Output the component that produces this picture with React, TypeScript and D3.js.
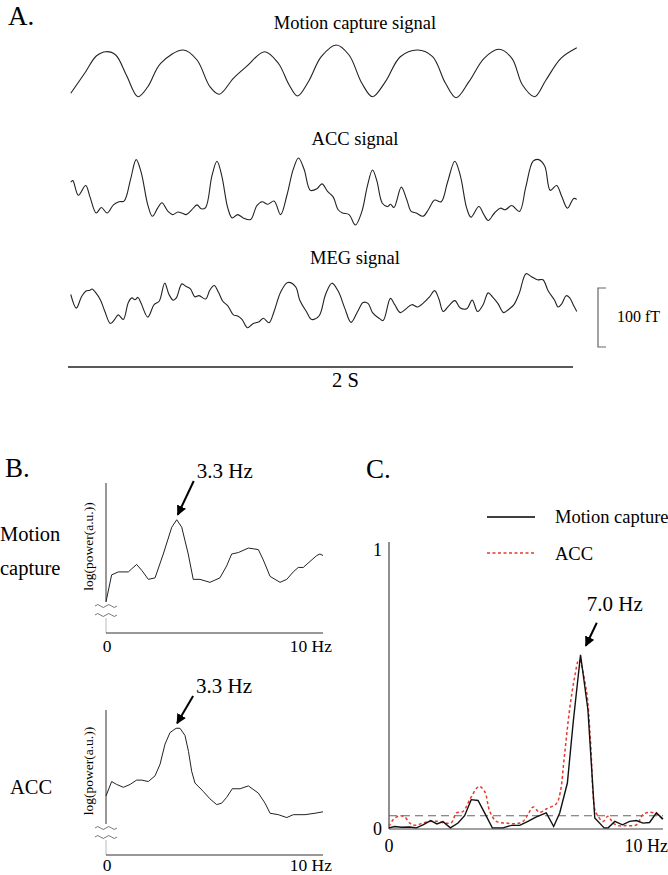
import React from 'react';
import * as d3 from 'd3';

// ---------- Panel A: time series (time in s, normalised amplitude) ----------
const tMotion = [0.011,0.070,0.112,0.151,0.189,0.231,0.277,0.316,0.367,0.457,0.511,0.562,0.599,0.655,0.706,0.779,0.833,0.876,0.909,0.952,1.003,1.062,1.113,1.164,1.206,1.257,1.316,1.385,1.444,1.495,1.537,1.588,1.648,1.707,1.758,1.800,1.848,1.893,1.952,2.015];
const vMotion = [0.089,0.496,0.792,0.874,0.811,0.434,0.025,0.213,0.655,0.906,0.717,0.213,0.070,0.372,0.591,0.874,0.655,0.245,0.038,0.308,0.779,1.0,0.811,0.277,0.025,0.308,0.779,0.906,0.779,0.277,0.006,0.308,0.749,0.919,0.749,0.245,0.025,0.340,0.749,0.949];

const tAcc = [0.011,0.019,0.041,0.070,0.087,0.112,0.132,0.155,0.180,0.202,0.222,0.248,0.270,0.290,0.316,0.334,0.355,0.372,0.396,0.414,0.435,0.451,0.468,0.490,0.511,0.528,0.545,0.570,0.590,0.609,0.633,0.650,0.672,0.694,0.723,0.748,0.769,0.791,0.816,0.842,0.867,0.892,0.913,0.935,0.960,0.986,1.006,1.028,1.050,1.070,1.087,1.113,1.138,1.164,1.186,1.206,1.223,1.245,1.266,1.277,1.291,1.320,1.342,1.359,1.379,1.406,1.427,1.452,1.478,1.503,1.532,1.554,1.579,1.596,1.627,1.647,1.664,1.689,1.712,1.732,1.757,1.788,1.813,1.842,1.864,1.888,1.910,1.935,1.956,1.978,2.003,2.015];
const vAcc = [0.638,0.662,0.444,0.589,0.420,0.179,0.261,0.179,0.300,0.348,0.357,0.686,0.976,0.783,0.300,0.130,0.251,0.333,0.203,0.155,0.193,0.179,0.155,0.227,0.300,0.242,0.261,0.734,0.952,0.734,0.251,0.106,0.155,0.106,0.082,0.290,0.348,0.309,0.357,0.155,0.444,0.831,1.0,0.831,0.517,0.541,0.614,0.502,0.420,0.227,0.179,0.155,0,0.203,0.589,0.821,0.662,0.324,0.275,0.309,0.261,0.565,0.372,0.203,0.179,0.130,0.227,0.372,0.348,0.638,0.952,0.734,0.251,0.116,0.275,0.155,0.068,0.179,0.251,0.227,0.290,0.203,0.565,0.952,0.976,0.879,0.517,0.589,0.420,0.251,0.396,0.382];

const tMeg = [0.011,0.033,0.053,0.070,0.087,0.095,0.112,0.129,0.146,0.168,0.185,0.199,0.219,0.239,0.253,0.265,0.277,0.290,0.316,0.341,0.361,0.383,0.400,0.417,0.429,0.451,0.468,0.485,0.502,0.519,0.545,0.562,0.579,0.596,0.613,0.633,0.655,0.672,0.689,0.711,0.731,0.757,0.774,0.796,0.816,0.842,0.870,0.901,0.918,0.944,0.965,0.994,1.020,1.045,1.070,1.096,1.121,1.147,1.169,1.189,1.206,1.232,1.248,1.277,1.294,1.316,1.342,1.362,1.384,1.410,1.432,1.452,1.469,1.486,1.508,1.532,1.554,1.579,1.601,1.622,1.644,1.664,1.681,1.703,1.725,1.746,1.766,1.787,1.814,1.834,1.859,1.881,1.902,1.927,1.941,1.956,1.973,1.987,2.003,2.015];
const vMeg = [0.609,0.362,0.564,0.667,0.687,0.708,0.630,0.506,0.300,0.082,0.156,0.239,0.156,0.465,0.547,0.514,0.556,0.444,0.198,0.424,0.486,0.815,0.609,0.506,0.547,0.802,0.753,0.712,0.568,0.588,0.527,0.691,0.774,0.650,0.486,0.403,0.239,0.218,0.156,0.004,0.074,0.115,0.177,0.095,0.300,0.650,0.827,0.753,0.506,0.300,0.156,0.218,0.609,0.815,0.671,0.362,0.103,0.300,0.465,0.444,0.280,0.177,0.136,0.539,0.424,0.280,0.362,0.424,0.383,0.465,0.568,0.679,0.527,0.300,0.403,0.498,0.362,0.350,0.506,0.300,0.424,0.638,0.568,0.444,0.280,0.342,0.424,0.630,0.988,0.938,0.877,0.877,0.671,0.506,0.383,0.444,0.588,0.547,0.403,0.300];

const signalTitles = ['Motion capture signal', 'ACC signal', 'MEG signal'];
const timeSpanLabel = '2 S';
const scaleBarLabel = '100 fT';

// ---------- Panel B: log power spectra ----------
const fBMotion = [0,0.26,0.57,0.88,1.03,1.18,1.41,1.65,1.95,2.26,2.64,3.03,3.26,3.49,3.79,4.02,4.33,4.56,4.79,5.25,5.56,5.79,6.10,6.56,7.02,7.25,7.56,8.02,8.33,8.63,8.86,9.09,9.40,9.71,9.86,10];
const pBMotion = [0.21,0.39,0.41,0.41,0.41,0.43,0.46,0.42,0.36,0.37,0.53,0.71,0.76,0.71,0.53,0.36,0.36,0.35,0.34,0.37,0.45,0.53,0.54,0.57,0.56,0.49,0.38,0.34,0.36,0.41,0.44,0.44,0.48,0.52,0.53,0.52];
const fBAcc = [0,0.26,0.49,0.80,1.11,1.41,1.65,1.95,2.26,2.49,2.72,2.95,3.23,3.41,3.64,3.80,3.95,4.10,4.49,4.79,5.10,5.33,5.56,5.82,6.18,6.56,7.02,7.33,7.56,7.94,8.33,8.63,9.17,9.63,10];
const pBAcc = [0.41,0.51,0.49,0.47,0.49,0.52,0.52,0.51,0.55,0.63,0.77,0.85,0.88,0.88,0.83,0.72,0.58,0.50,0.44,0.39,0.35,0.36,0.40,0.46,0.46,0.48,0.43,0.36,0.29,0.28,0.26,0.28,0.28,0.29,0.30];
const peakB = 3.3;
const rowLabelsB = [['Motion', 'capture'], ['ACC']];

// ---------- Panel C: coherence with MEG ----------
const fCMotion = [0,0.21,0.45,0.76,1.0,1.24,1.52,1.75,1.97,2.24,2.52,2.76,3.0,3.25,3.49,3.77,4.16,4.47,4.77,5.07,5.38,5.74,6.01,6.23,6.51,6.72,6.99,7.26,7.51,7.85,8.0,8.24,8.52,8.78,9.03,9.27,9.51,9.76,10];
const cCMotion = [0.004,0.009,0.006,0.007,0.004,0.015,0.03,0.018,0.026,0.004,0.021,0.047,0.104,0.101,0.057,0.004,0.004,0.013,0.013,0.027,0.043,0.057,0.009,0.057,0.163,0.376,0.618,0.423,0.039,0.004,0.004,0.027,0.015,0.027,0.03,0.021,0.023,0.057,0.035];
const fCAcc = [0,0.15,0.39,0.57,0.76,0.94,1.18,1.49,1.79,2.03,2.28,2.46,2.70,2.98,3.28,3.49,3.68,3.92,4.28,4.65,4.89,5.07,5.26,5.50,5.74,6.11,6.25,6.40,6.59,6.78,6.93,7.20,7.35,7.51,7.60,7.81,7.99,8.18,8.36,8.66,9.03,9.27,9.51,9.76,10];
const cCAcc = [0.009,0.033,0.047,0.043,0.021,0.013,0.019,0.027,0.027,0.021,0.023,0.057,0.062,0.11,0.151,0.133,0.062,0.027,0.021,0.019,0.027,0.051,0.078,0.059,0.071,0.09,0.13,0.257,0.423,0.541,0.60,0.494,0.317,0.07,0.05,0.027,0.045,0.021,0.012,0.012,0.015,0.051,0.059,0.054,0.033];
const thresholdC = 0.047;
const peakC = 7.0;
const legendC = ['Motion capture', 'ACC'];

const FONT = "'Liberation Serif', 'Times New Roman', Times, serif";
const RED = '#e53a2f';

function zip(xs: number[], ys: number[]): [number, number][] {
  const n = Math.min(xs.length, ys.length);
  const out: [number, number][] = [];
  for (let i = 0; i < n; i++) out.push([xs[i], ys[i]]);
  return out;
}

function breakPath(cx: number, cy: number) {
  const w = 5.5;
  let d = `M${cx - 2 * w},${cy}`;
  for (let i = 0; i < 4; i++) d += ` q${w / 2},${i % 2 ? 3 : -3} ${w},0`;
  return d;
}

export default function App() {
  // Panel A scales
  const xA = d3.scaleLinear().domain([0, 2]).range([68, 573]);
  const bands = [
    { t: tMotion, v: vMotion, top: 45, bottom: 98, titleY: 29 },
    { t: tAcc, v: vAcc, top: 158, bottom: 225, titleY: 145 },
    { t: tMeg, v: vMeg, top: 273, bottom: 328, titleY: 264 },
  ];

  // Panel B scales
  const xB = d3.scaleLinear().domain([0, 10]).range([106, 323]);
  const bPlots = [
    { f: fBMotion, p: pBMotion, y: d3.scaleLinear().domain([0, 1]).range([633, 484]), axisTop: 483, axisY: 633, labels: rowLabelsB[0], labelY: [541, 575], peakLabelY: 478 },
    { f: fBAcc, p: pBAcc, y: d3.scaleLinear().domain([0, 1]).range([855, 711]), axisTop: 710, axisY: 855, labels: rowLabelsB[1], labelY: [794], peakLabelY: 693 },
  ];

  // Panel C scales
  const xC = d3.scaleLinear().domain([0, 10]).range([389, 663]);
  const yC = d3.scaleLinear().domain([0, 1]).range([829, 547]);

  const lineC = d3.line<[number, number]>().x(d => xC(d[0])).y(d => yC(d[1]));
  const lineCSmooth = d3.line<[number, number]>().x(d => xC(d[0])).y(d => yC(d[1])).curve(d3.curveCatmullRom.alpha(0.5));

  return (
    <svg width={668} height={875} style={{ position: 'absolute', left: 0, top: 0, display: 'block', background: '#fff', fontFamily: FONT }}>
      <defs>
        <marker id="ah" viewBox="0 0 10 10" refX="9" refY="5" markerWidth="5" markerHeight="5" orient="auto">
          <path d="M0,0 L10,5 L0,10 z" fill="#000" />
        </marker>
      </defs>
      <rect x={0} y={0} width={668} height={875} fill="#fff" />

      {/* ---------- Panel A ---------- */}
      <text x={8} y={25} fontSize={27}>A.</text>
      {bands.map((b, i) => {
        const y = d3.scaleLinear().domain([0, 1]).range([b.bottom, b.top]);
        const line = d3.line<[number, number]>().x(d => xA(d[0])).y(d => y(d[1])).curve(d3.curveCatmullRom.alpha(0.5));
        return (
          <g key={i}>
            <text x={355} y={b.titleY} fontSize={18.5} textAnchor="middle">{signalTitles[i]}</text>
            <path d={line(zip(b.t, b.v)) || ''} fill="none" stroke="#222" strokeWidth={1.1} />
          </g>
        );
      })}
      {/* scale bar */}
      <path d="M606,288 H598 V347 H606" fill="none" stroke="#666" strokeWidth={1.2} />
      <text x={617} y={322} fontSize={16}>{scaleBarLabel}</text>
      {/* time bar */}
      <line x1={xA(0)} x2={xA(2)} y1={367} y2={367} stroke="#222" strokeWidth={1.5} />
      <text x={(xA(0) + xA(2)) / 2 + 25} y={387} fontSize={20.5} textAnchor="middle">{timeSpanLabel}</text>

      {/* ---------- Panel B ---------- */}
      <text x={5} y={477} fontSize={27}>B.</text>
      {bPlots.map((pl, i) => {
        const line = d3.line<[number, number]>().x(d => xB(d[0])).y(d => pl.y(d[1]));
        const pts = zip(pl.f, pl.p);
        const peakIdx = d3.maxIndex(pl.p);
        const px = xB(pl.f[peakIdx]);
        const py = pl.y(pl.p[peakIdx]);
        const by1 = pl.axisY - 27;
        const by2 = pl.axisY - 18;
        const yMid = (pl.axisTop + by1) / 2 + 2;
        return (
          <g key={i}>
            <line x1={xB(0)} x2={xB(0)} y1={pl.axisTop} y2={by1 - 4} stroke="#333" strokeWidth={1} />
            <path d={breakPath(xB(0), by1)} fill="none" stroke="#666" strokeWidth={0.9} />
            <path d={breakPath(xB(0), by2)} fill="none" stroke="#666" strokeWidth={0.9} />
            <line x1={xB(0)} x2={xB(0)} y1={by2 + 3} y2={pl.axisY} stroke="#bbb" strokeWidth={1} />
            <line x1={xB(0)} x2={xB(10)} y1={pl.axisY} y2={pl.axisY} stroke="#333" strokeWidth={1} />
            <text x={xB(0) + 1} y={pl.axisY + (i === 0 ? 19 : 16)} fontSize={17.5} textAnchor="middle">0</text>
            <text x={xB(10) + 9} y={pl.axisY + (i === 0 ? 19 : 16)} fontSize={17.5} textAnchor="end">10 Hz</text>
            <text transform={`translate(93,${yMid}) rotate(-90)`} fontSize={13.5} textAnchor="middle">log(power(a.u.))</text>
            {pl.labels.map((l, j) => (
              <text key={j} x={i === 0 ? 0 : 10} y={pl.labelY[j]} fontSize={20.5}>{l}</text>
            ))}
            <path d={line(pts) || ''} fill="none" stroke="#222" strokeWidth={1} />
            <line x1={px + 17} y1={pl.peakLabelY + 3} x2={px + 1} y2={py - 5} stroke="#000" strokeWidth={2} markerEnd="url(#ah)" />
            <text x={px + 20} y={pl.peakLabelY} fontSize={21}>{`${peakB} Hz`}</text>
          </g>
        );
      })}

      {/* ---------- Panel C ---------- */}
      <text x={366} y={478} fontSize={27}>C.</text>
      <line x1={487} x2={535} y1={517} y2={517} stroke="#000" strokeWidth={1.5} />
      <text x={555} y={523} fontSize={18.5}>{legendC[0]}</text>
      <line x1={487} x2={535} y1={553} y2={553} stroke={RED} strokeWidth={1.5} strokeDasharray="3,2.5" />
      <text x={555} y={560} fontSize={18.5}>{legendC[1]}</text>

      <line x1={xC(0)} x2={xC(0)} y1={542} y2={yC(0)} stroke="#444" strokeWidth={1.2} />
      <line x1={xC(0)} x2={xC(10)} y1={yC(0)} y2={yC(0)} stroke="#444" strokeWidth={1.2} />
      <text x={382} y={yC(1) + 9} fontSize={18} textAnchor="end">1</text>
      <text x={382} y={yC(0) + 6} fontSize={18} textAnchor="end">0</text>
      <text x={xC(0)} y={852} fontSize={18} textAnchor="middle">0</text>
      <text x={668} y={852} fontSize={18} textAnchor="end">10 Hz</text>
      <line x1={xC(0)} x2={xC(10)} y1={yC(thresholdC)} y2={yC(thresholdC)} stroke="#666" strokeWidth={1.1} strokeDasharray="8,5" />

      <path d={lineCSmooth(zip(fCAcc, cCAcc)) || ''} fill="none" stroke={RED} strokeWidth={1.5} strokeDasharray="3,2.5" />
      <path d={lineC(zip(fCMotion, cCMotion)) || ''} fill="none" stroke="#111" strokeWidth={1.4} />
      {(() => {
        const px = xC(peakC);
        const py = yC(cCMotion[d3.maxIndex(cCMotion)]);
        return (
          <g>
            <line x1={px + 16} y1={py - 32} x2={px + 5} y2={py - 9} stroke="#000" strokeWidth={2} markerEnd="url(#ah)" />
            <text x={px + 6} y={py - 44} fontSize={21}>{`${peakC.toFixed(1)} Hz`}</text>
          </g>
        );
      })()}
    </svg>
  );
}
